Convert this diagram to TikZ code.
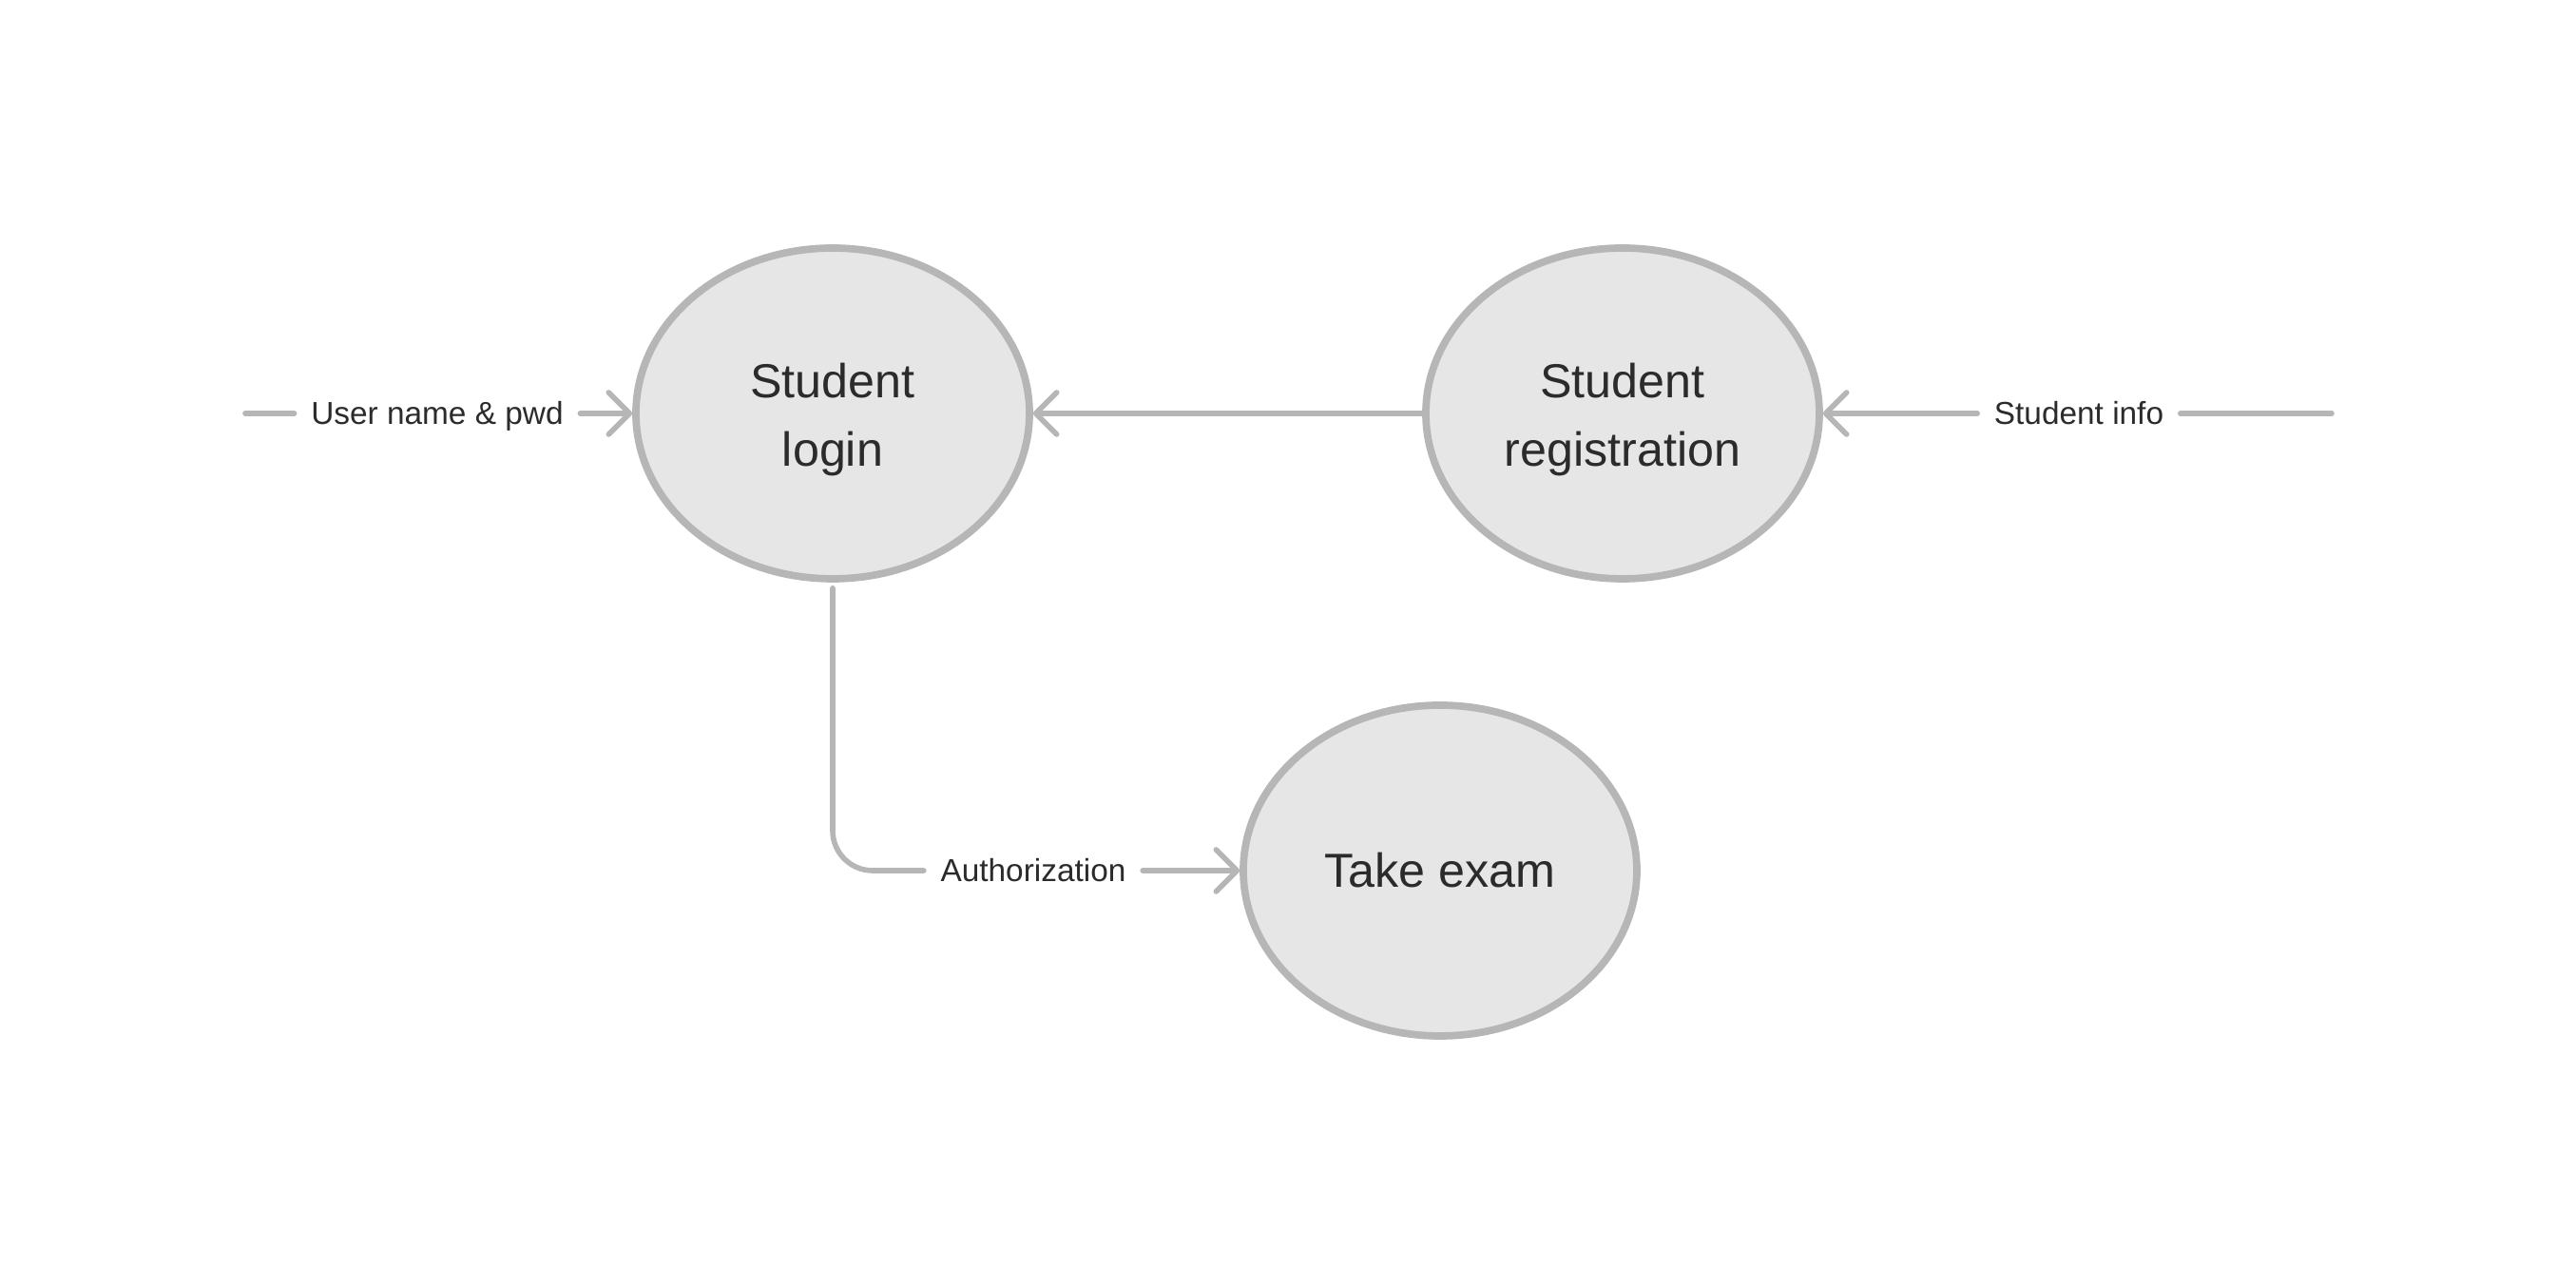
\documentclass[tikz,border=0pt]{standalone}
\usepackage{fontspec}
\setmainfont{Liberation Sans}
\usepackage{tikz}
\usetikzlibrary{arrows.meta}
\usetikzlibrary{shapes.geometric}
\definecolor{edgegray}{RGB}{182,182,182}
\definecolor{bubblefill}{RGB}{230,230,230}
\definecolor{inkgray}{RGB}{43,43,43}
\newcommand{\dropline}[1]{\raisebox{-0.07cm}[\height][\depth]{#1}}
\tikzset{
  bubble/.style = {ellipse, draw=edgegray, fill=bubblefill, line width=2.2pt,
    minimum width=4.14cm, minimum height=3.48cm, align=center, text=inkgray,
    font=\fontsize{14.3}{20.5}\selectfont},% process bubble
  flow/.style = {draw=edgegray, line width=1.6pt, line cap=round},% data flow
  flowarrow/.style = {flow, -{Straight Barb[round,length=2.2mm,width=4.4mm]}},
  flowlabel/.style = {text=inkgray, inner xsep=0.17cm, inner ysep=0.05cm,
    text height=0.24cm, text depth=0cm,
    font=\fontsize{9.5}{11}\selectfont}% label sitting in the flow
}

\begin{document}
\begin{tikzpicture}
\useasboundingbox (0,0) rectangle (27.10,13.52);

\node [bubble] (login) at (8.76,9.17) {\dropline{Student}\\\dropline{login}};
\node [bubble] (reg) at (17.07,9.17) {\dropline{Student}\\\dropline{registration}};
\node [bubble] (exam) at (15.15,4.36) {Take exam};

\coordinate (userin) at (2.58,9.17);
\coordinate (infoin) at (24.53,9.17);

\node [flowlabel] (userlab) at (4.60,9.17) {User name \& pwd};
\node [flowlabel] (infolab) at (21.87,9.17) {Student info};
\node [flowlabel] (authlab) at (10.87,4.36) {Authorization};

\draw[flow] (userin) -- (userlab);
\draw[flowarrow] (userlab) -- (login);
\draw[flowarrow] (reg) -- (login);
\draw[flow] (infoin) -- (infolab);
\draw[flowarrow] (infolab) -- (reg);
\draw[flow, rounded corners=0.42cm] ([yshift=-0.06cm]login.south) |- (authlab.west);
\draw[flowarrow] (authlab) -- (exam);
\end{tikzpicture}
\end{document}
